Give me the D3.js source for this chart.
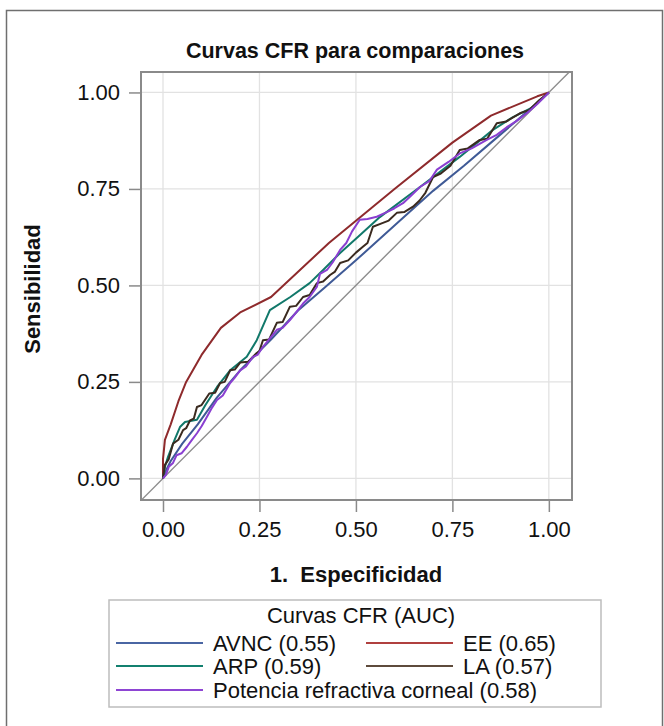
<!DOCTYPE html>
<html>
<head>
<meta charset="utf-8">
<script src="https://cdn.jsdelivr.net/npm/d3@7"></script>
<style>
  html, body { margin: 0; padding: 0; background: #fff; }
  svg { display: block; }
  text { font-family: "Liberation Sans", Arial, Helvetica, sans-serif; fill: #111; }
</style>
</head>
<body>
<svg id="chart" width="664" height="726"></svg>
<script>
// ---------- data ----------
const chartTitle = "Curvas CFR para comparaciones";
const xTitle = "1.  Especificidad";
const yTitle = "Sensibilidad";
const legendTitle = "Curvas CFR (AUC)";
const tickValues = [0, 0.25, 0.5, 0.75, 1];
const tickLabels = ["0.00", "0.25", "0.50", "0.75", "1.00"];

const seriesNames = ["AVNC (0.55)", "EE (0.65)", "ARP (0.59)", "LA (0.57)", "Potencia refractiva corneal (0.58)"];
const seriesColors = ["#3f5a96", "#8e2a2c", "#11786a", "#3a2a1f", "#8a3fd1"];
const legendColors = ["#4a66a3", "#b0403f", "#13806f", "#5e4b3c", "#8e45d3"];

const avnc = [[0,0],[0.01,0.025],[0.02,0.045],[0.05,0.09],[0.09,0.14],[0.14,0.21],[0.2,0.28],[0.28,0.36],[0.35,0.435],[0.42,0.495],[0.5,0.565],[0.6,0.655],[0.7,0.745],[0.78,0.81],[0.85,0.87],[0.92,0.93],[1,1]];
const ee = [[0,0],[0,0.05],[0.005,0.1],[0.02,0.14],[0.04,0.2],[0.06,0.25],[0.1,0.32],[0.15,0.39],[0.2,0.43],[0.28,0.47],[0.43,0.61],[0.6,0.75],[0.75,0.87],[0.85,0.94],[0.97,0.99],[1,1]];
const arp = [[0,0],[0.005,0.03],[0.013,0.056],[0.03,0.1],[0.044,0.133],[0.057,0.146],[0.088,0.152],[0.11,0.19],[0.14,0.237],[0.174,0.28],[0.217,0.315],[0.243,0.358],[0.277,0.436],[0.33,0.47],[0.38,0.506],[0.415,0.54],[0.459,0.584],[0.51,0.63],[0.562,0.677],[0.666,0.755],[0.769,0.833],[0.855,0.903],[0.907,0.936],[0.959,0.962],[1,1]];
const la = [[0,0],[0.005,0.035],[0.015,0.05],[0.026,0.09],[0.04,0.1],[0.052,0.125],[0.06,0.13],[0.07,0.15],[0.08,0.155],[0.088,0.185],[0.1,0.19],[0.12,0.22],[0.135,0.222],[0.148,0.247],[0.16,0.25],[0.174,0.28],[0.186,0.282],[0.2,0.3],[0.22,0.302],[0.243,0.325],[0.25,0.33],[0.259,0.358],[0.275,0.36],[0.295,0.403],[0.31,0.405],[0.329,0.445],[0.345,0.447],[0.363,0.47],[0.38,0.475],[0.399,0.506],[0.415,0.51],[0.433,0.527],[0.445,0.535],[0.459,0.558],[0.48,0.565],[0.5,0.585],[0.518,0.6],[0.53,0.61],[0.544,0.652],[0.565,0.66],[0.585,0.668],[0.606,0.688],[0.625,0.69],[0.648,0.704],[0.665,0.72],[0.68,0.74],[0.7,0.781],[0.72,0.79],[0.745,0.81],[0.769,0.851],[0.79,0.855],[0.821,0.877],[0.84,0.88],[0.865,0.92],[0.89,0.925],[0.925,0.946],[0.95,0.955],[0.975,0.98],[1,1]];
const prc = [[0,0],[0.008,0.01],[0.015,0.03],[0.026,0.04],[0.035,0.06],[0.048,0.065],[0.062,0.082],[0.075,0.1],[0.088,0.117],[0.1,0.135],[0.114,0.16],[0.125,0.18],[0.14,0.203],[0.155,0.215],[0.174,0.247],[0.185,0.26],[0.2,0.28],[0.215,0.29],[0.233,0.315],[0.245,0.32],[0.259,0.341],[0.275,0.36],[0.295,0.385],[0.31,0.39],[0.329,0.41],[0.345,0.43],[0.363,0.453],[0.38,0.47],[0.399,0.497],[0.407,0.53],[0.425,0.54],[0.44,0.56],[0.459,0.592],[0.475,0.61],[0.49,0.64],[0.51,0.67],[0.53,0.672],[0.554,0.678],[0.58,0.69],[0.6,0.7],[0.622,0.713],[0.64,0.73],[0.666,0.755],[0.69,0.77],[0.71,0.8],[0.74,0.82],[0.769,0.842],[0.8,0.855],[0.839,0.877],[0.865,0.89],[0.891,0.91],[0.915,0.925],[0.943,0.946],[0.97,0.97],[1,1]];
const seriesData = [avnc, ee, arp, la, prc];
const drawOrder = [0, 1, 2, 3, 4];

// ---------- layout ----------
const svg = d3.select("#chart");
const plot = { left: 141, right: 572, top: 72, bottom: 500 };
const x = d3.scaleLinear().domain([-0.057, 1.06]).range([plot.left, plot.right]);
const y = d3.scaleLinear().domain([-0.056, 1.053]).range([plot.bottom, plot.top]);
const FS = "22px";

// outer frame
svg.append("rect").attr("x", 6.5).attr("y", 10.5).attr("width", 656).attr("height", 740)
  .attr("fill", "none").attr("stroke", "#6f6f6f").attr("stroke-width", 1.5);

// title
svg.append("text").attr("x", 355).attr("y", 58).attr("text-anchor", "middle")
  .style("font-size", "21.5px").style("font-weight", "bold").text(chartTitle);

// gridlines
const g = svg.append("g");
g.selectAll("line.vg").data(tickValues).join("line")
  .attr("x1", d => x(d)).attr("x2", d => x(d)).attr("y1", plot.top).attr("y2", plot.bottom)
  .attr("stroke", "#e2e2e2").attr("stroke-width", 1.3);
g.selectAll("line.hg").data(tickValues).join("line")
  .attr("y1", d => y(d)).attr("y2", d => y(d)).attr("x1", plot.left).attr("x2", plot.right)
  .attr("stroke", "#e2e2e2").attr("stroke-width", 1.3);

// diagonal reference
svg.append("clipPath").attr("id", "pclip").append("rect")
  .attr("x", plot.left).attr("y", plot.top).attr("width", plot.right - plot.left).attr("height", plot.bottom - plot.top);
svg.append("line").attr("clip-path", "url(#pclip)")
  .attr("x1", x(-0.1)).attr("y1", y(-0.1)).attr("x2", x(1.1)).attr("y2", y(1.1))
  .attr("stroke", "#8d8d8d").attr("stroke-width", 1.4);

// curves
const line = d3.line().x(d => x(d[0])).y(d => y(d[1]));
drawOrder.forEach(i => {
  svg.append("path").datum(seriesData[i]).attr("d", line)
    .attr("fill", "none").attr("stroke", seriesColors[i]).attr("stroke-width", 2)
    .attr("stroke-linejoin", "round");
});

// plot border
svg.append("rect").attr("x", plot.left).attr("y", plot.top)
  .attr("width", plot.right - plot.left).attr("height", plot.bottom - plot.top)
  .attr("fill", "none").attr("stroke", "#8a8a8a").attr("stroke-width", 2);

// axes
const fmt = (d) => tickLabels[tickValues.indexOf(d)];
const xAxis = d3.axisBottom(x).tickValues(tickValues).tickFormat(fmt).tickSize(11).tickSizeOuter(0).tickPadding(9);
const yAxis = d3.axisLeft(y).tickValues(tickValues).tickFormat(fmt).tickSize(11).tickSizeOuter(0).tickPadding(9);
const gx = svg.append("g").attr("transform", `translate(0,${plot.bottom + 1})`).call(xAxis);
const gy = svg.append("g").attr("transform", `translate(${plot.left - 1},0)`).call(yAxis);
[gx, gy].forEach(a => {
  a.select(".domain").remove();
  a.selectAll(".tick line").attr("stroke", "#8a8a8a").attr("stroke-width", 1.5);
  a.selectAll(".tick text").style("font-size", FS).style("font-family", '"Liberation Sans", Arial, sans-serif').attr("fill", "#111");
});

// axis titles
svg.append("text").attr("x", 356).attr("y", 582).attr("text-anchor", "middle")
  .style("font-size", FS).style("font-weight", "bold").style("white-space", "pre").text(xTitle);
svg.append("text").attr("transform", "translate(40,289) rotate(-90)").attr("text-anchor", "middle")
  .style("font-size", FS).style("font-weight", "bold").text(yTitle);

// legend
const lg = svg.append("g");
lg.append("rect").attr("x", 109).attr("y", 600).attr("width", 492).attr("height", 107)
  .attr("fill", "#fff").attr("stroke", "#bdbdbd").attr("stroke-width", 1.5);
lg.append("text").attr("x", 361).attr("y", 623).attr("text-anchor", "middle")
  .style("font-size", FS).text(legendTitle);
const legendPos = [[116, 643], [366, 643], [116, 666], [366, 666], [116, 690]];
seriesNames.forEach((name, i) => {
  const [lx, ly] = legendPos[i];
  lg.append("line").attr("x1", lx).attr("x2", lx + 87).attr("y1", ly).attr("y2", ly)
    .attr("stroke", legendColors[i]).attr("stroke-width", 2);
  lg.append("text").attr("x", lx + 97).attr("y", ly + 8).style("font-size", FS).text(name);
});
</script>
</body>
</html>
